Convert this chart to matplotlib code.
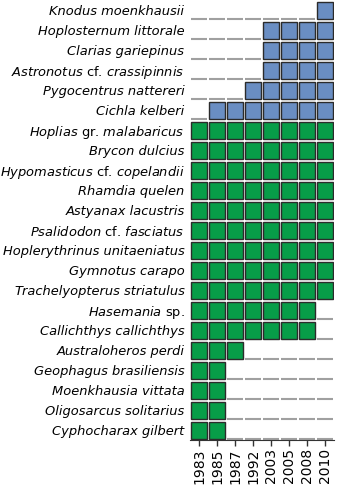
import matplotlib
matplotlib.use("Agg")
import matplotlib.pyplot as plt
import numpy as np

years = ["1983", "1985", "1987", "1992", "2003", "2005", "2008", "2010"]

# species from top to bottom; mathtext keeps "cf.", "gr.", "sp." upright
species = [
    "Knodus moenkhausii",
    "Hoplosternum littorale",
    "Clarias gariepinus",
    r"$\mathit{Astronotus}$ cf. $\mathit{crassipinnis}$",
    "Pygocentrus nattereri",
    "Cichla kelberi",
    r"$\mathit{Hoplias}$ gr. $\mathit{malabaricus}$",
    "Brycon dulcius",
    r"$\mathit{Hypomasticus}$ cf. $\mathit{copelandii}$",
    "Rhamdia quelen",
    "Astyanax lacustris",
    r"$\mathit{Psalidodon}$ cf. $\mathit{fasciatus}$",
    "Hoplerythrinus unitaeniatus",
    "Gymnotus carapo",
    "Trachelyopterus striatulus",
    r"$\mathit{Hasemania}$ sp.",
    "Callichthys callichthys",
    "Australoheros perdi",
    "Geophagus brasiliensis",
    "Moenkhausia vittata",
    "Oligosarcus solitarius",
    "Cyphocharax gilbert",
]

# 1 = recorded in that year, 0 = absent
presence = [
    [0, 0, 0, 0, 0, 0, 0, 1],
    [0, 0, 0, 0, 1, 1, 1, 1],
    [0, 0, 0, 0, 1, 1, 1, 1],
    [0, 0, 0, 0, 1, 1, 1, 1],
    [0, 0, 0, 1, 1, 1, 1, 1],
    [0, 1, 1, 1, 1, 1, 1, 1],
    [1, 1, 1, 1, 1, 1, 1, 1],
    [1, 1, 1, 1, 1, 1, 1, 1],
    [1, 1, 1, 1, 1, 1, 1, 1],
    [1, 1, 1, 1, 1, 1, 1, 1],
    [1, 1, 1, 1, 1, 1, 1, 1],
    [1, 1, 1, 1, 1, 1, 1, 1],
    [1, 1, 1, 1, 1, 1, 1, 1],
    [1, 1, 1, 1, 1, 1, 1, 1],
    [1, 1, 1, 1, 1, 1, 1, 1],
    [1, 1, 1, 1, 1, 1, 1, 0],
    [1, 1, 1, 1, 1, 1, 1, 0],
    [1, 1, 1, 0, 0, 0, 0, 0],
    [1, 1, 0, 0, 0, 0, 0, 0],
    [1, 1, 0, 0, 0, 0, 0, 0],
    [1, 1, 0, 0, 0, 0, 0, 0],
    [1, 1, 0, 0, 0, 0, 0, 0],
]

# first 6 species are non-native (blue), the rest native (green)
non_native = [True] * 6 + [False] * 16

green = "#079d48"
blue = "#6a8ec3"

fig = plt.figure(figsize=(3.6, 5.01), dpi=100)
ax = fig.add_axes([190 / 360, 1 - 440 / 501, 144 / 360, 440 / 501])

n = len(species)
pres = np.array(presence)
for i in range(n):
    y = n - 1 - i
    for j in range(len(years)):
        if pres[i, j]:
            ax.bar(j, 0.85, bottom=y - 0.45, width=0.88,
                   color=blue if non_native[i] else green,
                   edgecolor="#2b2b2b", linewidth=1.0)
        else:
            ax.plot([j - 0.44, j + 0.44], [y - 0.46, y - 0.46],
                    color="#a0a0a0", lw=1.5, solid_capstyle="butt")

ax.set_xlim(-0.5, len(years) - 0.5)
ax.set_ylim(-0.5, n - 0.5)
ax.set_xticks(range(len(years)))
ax.set_xticklabels(years, rotation=90, fontsize=10)
ax.set_yticks(range(n))
ax.set_yticklabels(species[::-1], fontsize=9.4, fontstyle="italic")
for lab in ax.get_yticklabels():
    if "$" in lab.get_text():
        lab.set_fontstyle("normal")
ax.tick_params(axis="y", length=0, pad=4)
ax.tick_params(axis="x", length=4, width=1, color="#333333", pad=2)
for s in ["top", "right", "left"]:
    ax.spines[s].set_visible(False)
ax.spines["bottom"].set_color("#333333")

plt.savefig("out.png", dpi=100)
